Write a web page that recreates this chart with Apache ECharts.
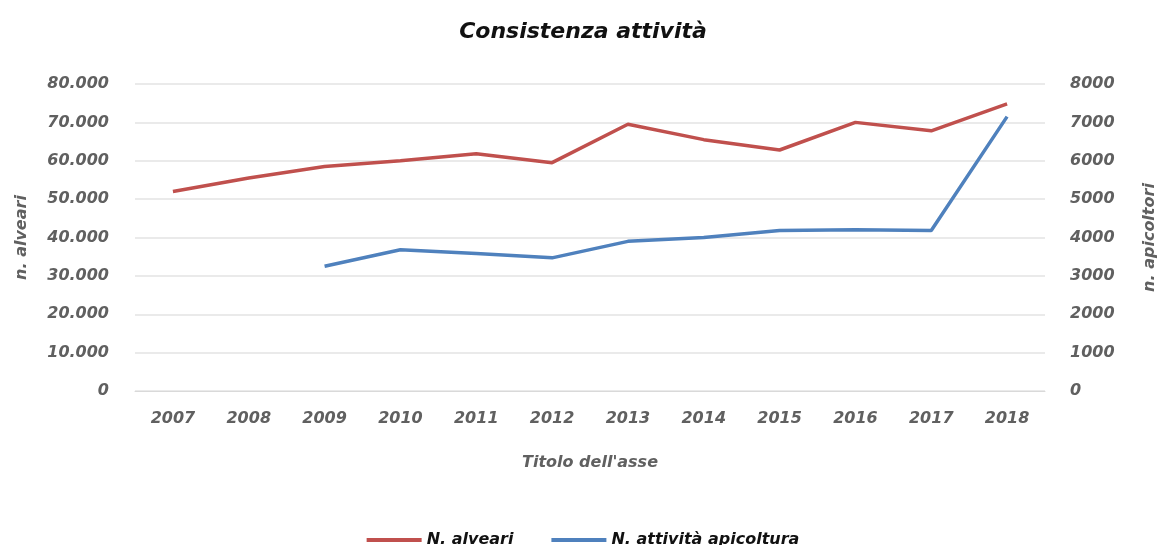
<!DOCTYPE html>
<html>
<head>
<meta charset="utf-8">
<script src="https://cdn.jsdelivr.net/npm/echarts@6/dist/echarts.min.js"></script>
<style>
html,body{margin:0;padding:0;background:#fff;}
#chart{width:1166px;height:545px;}
</style>
</head>
<body>
<div id="chart"></div>
<script>
const years = ['2007','2008','2009','2010','2011','2012','2013','2014','2015','2016','2017','2018'];
const alveari = [52000, 55500, 58500, 60000, 61800, 59500, 69500, 65500, 62800, 70000, 67800, 74800];
const apicoltura = [null, null, 3250, 3680, 3580, 3470, 3900, 4000, 4180, 4200, 4180, 7150];
const seriesNames = ['N. alveari', 'N. attività apicoltura'];

const FONT = '"DejaVu Sans", sans-serif';
const tickStyle = {color:'#606060', fontFamily:FONT, fontStyle:'italic', fontWeight:'bold', fontSize:16};
const nameStyle = {color:'#606060', fontFamily:FONT, fontStyle:'italic', fontWeight:'bold', fontSize:16};

const chart = echarts.init(document.getElementById('chart'), null, {renderer:'canvas'});
chart.setOption({
  animation:false,
  backgroundColor:'#ffffff',
  title:{
    text:'Consistenza attività', left:'center', top:16,
    textStyle:{color:'#111111', fontFamily:FONT, fontStyle:'italic', fontWeight:'bold', fontSize:22}
  },
  legend:{
    top:527, left:'center', itemWidth:55, itemHeight:4, itemGap:38,
    icon:'rect',
    textStyle:{color:'#111111', fontFamily:FONT, fontStyle:'italic', fontWeight:'bold', fontSize:16},
    data:seriesNames
  },
  grid:{left:135, right:114, top:84, bottom:154, containLabel:false},
  xAxis:{
    type:'category', data:years, boundaryGap:true,
    name:'Titolo dell\'asse', nameLocation:'middle', nameGap:64,
    nameTextStyle:nameStyle,
    axisLine:{show:true, lineStyle:{color:'#d9d9d9'}},
    axisTick:{show:false},
    axisLabel:Object.assign({margin:20}, tickStyle)
  },
  yAxis:[{
    type:'value', min:0, max:80000, interval:10000, position:'left',
    name:'n. alveari', nameLocation:'middle', nameGap:105, nameRotate:90,
    nameTextStyle:nameStyle,
    axisLine:{show:false}, axisTick:{show:false},
    splitLine:{lineStyle:{color:'#e3e3e3', width:1.5}},
    axisLabel:Object.assign({margin:26, formatter:function(v){return String(v).replace(/\B(?=(\d{3})+(?!\d))/g,'.');}}, tickStyle)
  },{
    type:'value', min:0, max:8000, interval:1000, position:'right',
    name:'n. apicoltori', nameLocation:'middle', nameGap:97, nameRotate:90,
    nameTextStyle:nameStyle,
    axisLine:{show:false}, axisTick:{show:false}, splitLine:{show:false},
    axisLabel:Object.assign({margin:25, formatter:function(v){return String(v);}}, tickStyle)
  }],
  series:[{
    name:seriesNames[0], type:'line', yAxisIndex:0, data:alveari,
    symbol:'none', lineStyle:{color:'#c0504d', width:3.5}, itemStyle:{color:'#c0504d'}
  },{
    name:seriesNames[1], type:'line', yAxisIndex:1, data:apicoltura,
    symbol:'none', lineStyle:{color:'#4f81bd', width:3.5}, itemStyle:{color:'#4f81bd'}
  }]
});
</script>
</body>
</html>
